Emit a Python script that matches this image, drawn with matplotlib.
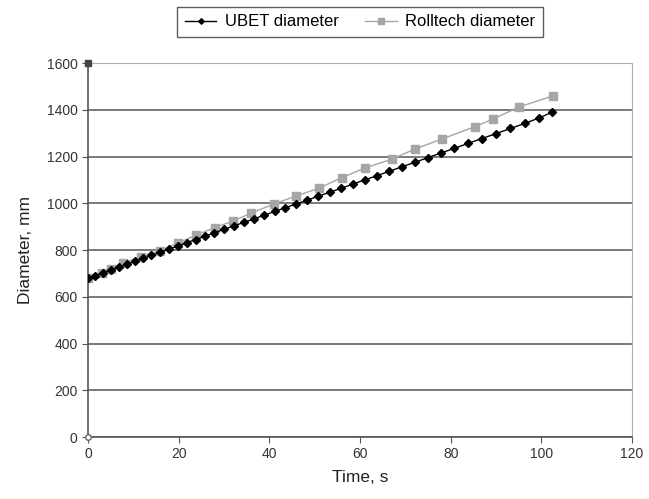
import matplotlib
matplotlib.use("Agg")
import matplotlib.pyplot as plt

plt.rcParams['font.family'] = ['Liberation Sans', 'DejaVu Sans']

# UBET: one marker per revolution
ubet_time = [0, 1.65, 3.33, 5.04, 6.77, 8.53, 10.32, 12.14, 13.99, 15.88,
             17.80, 19.75, 21.73, 23.75, 25.80, 27.89, 30.01, 32.17, 34.36, 36.59,
             38.86, 41.17, 43.51, 45.89, 48.31, 50.78, 53.29, 55.84, 58.43, 61.07,
             63.75, 66.48, 69.25, 72.07, 74.94, 77.85, 80.81, 83.82, 86.89, 90.01,
             93.18, 96.40, 99.5, 102.4]
ubet_diam = [680, 691, 703, 715, 727, 739, 752, 764, 777, 790,
             804, 817, 831, 845, 859, 874, 889, 903, 918, 933,
             949, 965, 981, 997, 1013, 1030, 1047, 1064, 1082, 1100,
             1118, 1137, 1156, 1175, 1195, 1215, 1235, 1256, 1277, 1298,
             1320, 1342, 1365, 1390]

roll_time = [0, 3, 5, 7.7, 11.7, 15.8, 19.9, 23.8, 28, 32, 36, 41, 45.9,
             51, 56, 61.1, 67.1, 72.1, 78.1, 85.4, 89.3, 95.1, 102.5]
roll_diam = [680, 702, 719, 744, 770, 796, 830, 864, 896, 924, 958, 997, 1031,
             1065, 1110, 1151, 1189, 1232, 1275, 1328, 1360, 1412, 1459]

fig = plt.figure(figsize=(6.49, 4.99), dpi=100)
ax = fig.add_axes([0.1356, 0.1242, 0.8382, 0.7495])

ax.plot(ubet_time, ubet_diam, color='black', lw=1.0, marker='D',
        markersize=4.0, label='UBET diameter', zorder=4)
ax.plot(roll_time, roll_diam, color='#a6a6a6', lw=1.0, marker='s',
        markersize=5.2, label='Rolltech diameter', zorder=3)

# stray marks at the axis corners
ax.plot([0], [1600], marker='s', color='#444444', markersize=4, clip_on=False, zorder=5)
ax.plot([0], [0], marker='o', mfc='white', mec='#666666', markersize=4, clip_on=False, zorder=5)

ax.set_xlim(0, 120)
ax.set_ylim(0, 1600)
ax.set_xticks(range(0, 121, 20))
ax.set_yticks(range(0, 1601, 200))

ax.yaxis.grid(True, color='#7a7a7a', lw=1.4)
ax.set_axisbelow(True)

for side in ['left', 'bottom']:
    ax.spines[side].set_color('#555555')
    ax.spines[side].set_linewidth(1.2)
ax.spines['right'].set_color('#b0b0b0')
ax.spines['top'].set_color('#b0b0b0')

ax.tick_params(axis='both', direction='out', length=4, color='#555555',
               labelsize=10, labelcolor='#333333')

ax.set_xlabel('Time, s', fontsize=12.5, color='#222222', labelpad=6)
ax.set_ylabel('Diameter, mm', fontsize=12.5, color='#222222', labelpad=10)

leg = ax.legend(loc='lower center', bbox_to_anchor=(0.5, 1.07), ncol=2,
                fontsize=12, frameon=True, fancybox=False, edgecolor='#333333',
                handlelength=1.9, handletextpad=0.5, columnspacing=1.6,
                borderpad=0.45, markerscale=0.7, borderaxespad=0)
leg.get_frame().set_linewidth(1.0)

fig.savefig('out.png', dpi=100)
